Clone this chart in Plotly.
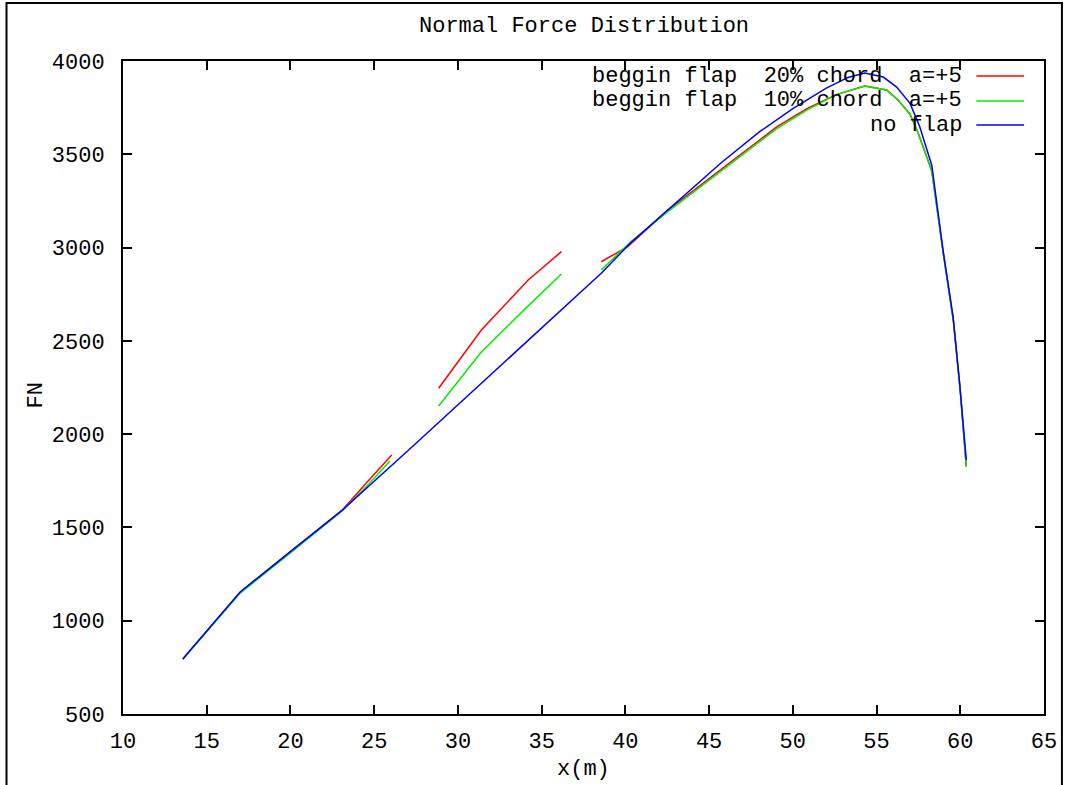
import plotly.graph_objects as go

# Normal force along the span, three configurations
x_no_flap = [13.57, 15.3, 17.0, 20.0, 23.1, 27.06, 30.0, 33.0, 36.0, 38.56, 40.3, 43.0,
             45.69, 48.0, 50.0, 52.0, 53.3, 54.3, 55.4, 56.2, 57.0, 57.58, 58.3, 58.97,
             59.57, 59.96, 60.36]
fn_no_flap = [795, 975, 1154, 1370, 1593, 1915, 2157, 2404, 2651, 2862, 3024, 3240,
              3452, 3620, 3745, 3855, 3912, 3936, 3914, 3860, 3773, 3648, 3440, 2987,
              2630, 2274, 1861]

x_flap10 = [13.57, 15.3, 17.0, 20.0, 23.1, 24.6, 25.95, None, 28.85, 31.4, 34.0, 36.18,
            None, 38.56, 40.3, 42.5, 45.69, 49.06, 50.84, 52.6, 54.3, 55.6, 56.3, 57.0,
            57.5, 58.3, 59.0, 59.6, 60.0, 60.36]
fn_flap10 = [792, 970, 1148, 1363, 1590, 1725, 1858, None, 2151, 2440, 2670, 2858,
             None, 2880, 3030, 3190, 3407, 3639, 3737, 3820, 3866, 3845, 3790, 3715,
             3610, 3410, 2960, 2600, 2230, 1824]

x_flap20 = [13.57, 15.3, 17.0, 20.0, 23.1, 24.6, 26.05, None, 28.85, 31.4, 34.2, 36.18,
            None, 38.56, 40.14, 42.5, 45.69, 49.06, 50.84, 52.6, 54.3, 55.6, 56.3, 57.0,
            57.5, 58.3, 59.0, 59.6, 60.0, 60.36]
fn_flap20 = [795, 975, 1154, 1370, 1593, 1745, 1888, None, 2246, 2558, 2826, 2978,
             None, 2924, 3005, 3198, 3415, 3648, 3745, 3820, 3866, 3845, 3790, 3715,
             3610, 3410, 2960, 2600, 2230, 1824]

series_names = ["beggin flap  20% chord  a=+5",
                "beggin flap  10% chord  a=+5",
                "no flap"]
series_colors = ["#ff0000", "#00ee00", "#0000ff"]

x_ticks = list(range(10, 66, 5))
y_ticks = list(range(500, 4001, 500))

FONT = "Liberation Mono"

fig = go.Figure()
for xs, ys, name, color in zip([x_flap20, x_flap10, x_no_flap],
                               [fn_flap20, fn_flap10, fn_no_flap],
                               series_names, series_colors):
    fig.add_trace(go.Scatter(x=xs, y=ys, mode="lines", name=name,
                             line=dict(color=color, width=1.5),
                             connectgaps=False, showlegend=False))

# plot-area geometry in pixels
L, R, T, B = 123, 1048, 61, 714
W, H = R - L, B - T


def px(xp):
    return (xp - L) / W


def py(yp):
    return (B - yp) / H


# key: right-aligned text with line sample on the right
rows = [76, 101, 125]
for name, color, yr in zip(series_names, series_colors, rows):
    fig.add_annotation(x=px(968), y=py(yr), xref="paper", yref="paper",
                       text=name.replace(" ", "&nbsp;"), showarrow=False,
                       xanchor="right", yanchor="middle",
                       font=dict(family=FONT, size=22, color="black"))
    fig.add_shape(type="line", xref="paper", yref="paper",
                  x0=px(980), x1=px(1028), y0=py(yr), y1=py(yr),
                  line=dict(color=color, width=1.5))

fig.add_annotation(x=px((L + R) / 2), y=py(27), xref="paper", yref="paper",
                   text="Normal Force Distribution", showarrow=False,
                   xanchor="center", yanchor="middle",
                   font=dict(family=FONT, size=22, color="black"))
fig.add_annotation(x=px(585), y=py(769), xref="paper", yref="paper",
                   text="x(m)", showarrow=False, xanchor="center", yanchor="middle",
                   font=dict(family=FONT, size=22, color="black"))
fig.add_annotation(x=px(36), y=py(395), xref="paper", yref="paper",
                   text="FN", showarrow=False, textangle=-90,
                   xanchor="center", yanchor="middle",
                   font=dict(family=FONT, size=22, color="black"))

# outer frame
fig.add_shape(type="rect", xref="paper", yref="paper",
              x0=px(6), x1=px(1066), y0=py(800), y1=py(3),
              line=dict(color="black", width=2), layer="below")

axis_common = dict(showline=True, linecolor="black", linewidth=2, mirror="allticks",
                   ticks="inside", ticklen=9, tickwidth=2, tickcolor="black",
                   showgrid=False, zeroline=False,
                   tickfont=dict(family=FONT, size=22, color="black"))

fig.update_xaxes(range=[10, 65], tickvals=x_ticks, ticklabelstandoff=6, **axis_common)
fig.update_yaxes(range=[500, 4000], tickvals=y_ticks, ticklabelstandoff=12, **axis_common)

fig.update_layout(width=1069, height=785,
                  margin=dict(l=L, r=1069 - R, t=T, b=785 - B),
                  paper_bgcolor="white", plot_bgcolor="white")

fig.write_html("out.html")
